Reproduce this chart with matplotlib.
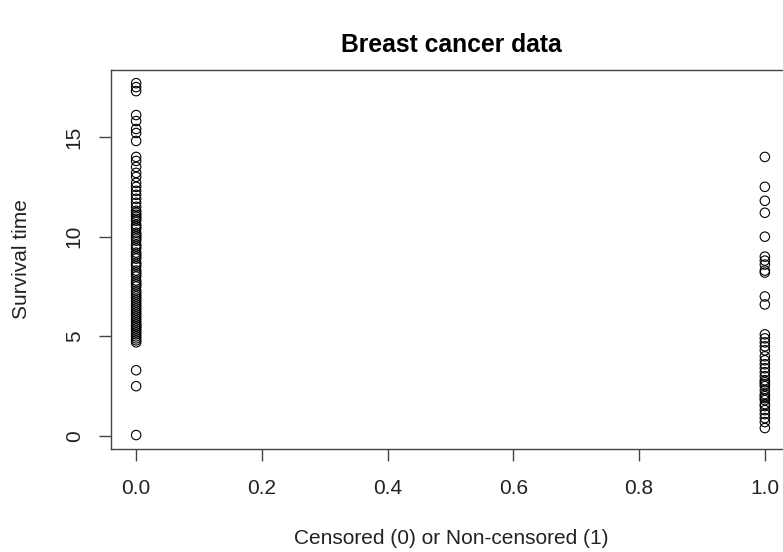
import numpy as np
import matplotlib
matplotlib.use("Agg")
import matplotlib.pyplot as plt

# survival times for censored (0) patients
censored_times = [17.7, 17.5, 17.3, 16.1, 15.8, 15.4, 15.2, 14.8,
                  14.0, 13.8, 13.5, 13.2, 13.0, 12.7, 12.5, 12.3, 12.1, 11.9,
                  11.7, 11.5, 11.3, 11.2, 11.1, 11.0, 10.9, 10.8, 10.6, 10.5,
                  10.4, 10.2, 10.1, 10.0, 9.9, 9.8, 9.6, 9.5, 9.4, 9.2, 9.1,
                  9.0, 8.9, 8.7, 8.6, 8.5, 8.3, 8.2, 8.1, 8.0, 7.8, 7.7, 7.6,
                  7.5, 7.3, 7.2, 7.1, 7.0, 6.9, 6.8, 6.7, 6.6, 6.5, 6.4, 6.3,
                  6.2, 6.1, 6.0, 5.9, 5.8, 5.7, 5.6, 5.5, 5.5, 5.4, 5.3, 5.2,
                  5.1, 5.0, 4.9, 4.8, 4.7, 3.3, 2.5, 0.05]

# survival times for non-censored (1) patients
event_times = [14.0, 12.5, 11.8, 11.2, 10.0, 9.0, 8.8, 8.6, 8.3, 8.2, 7.0,
               6.6, 5.1, 4.9, 4.7, 4.5, 4.3, 4.0, 3.8, 3.6, 3.4, 3.2, 3.0,
               2.8, 2.7, 2.6, 2.5, 2.3, 2.1, 2.0, 1.9, 1.8, 1.6, 1.5, 1.3,
               1.1, 0.9, 0.7, 0.4]

status = [0] * len(censored_times) + [1] * len(event_times)
times = censored_times + event_times

plt.rcParams['font.family'] = ['Liberation Sans', 'DejaVu Sans']

fig = plt.figure(figsize=(7.83, 5.52), dpi=100)
W, H = 783.0, 552.0
# axes box in pixels: left 111, right 790 (runs off the image), top 70, bottom 449
ax = fig.add_axes([111 / W, 1 - 449 / H, (790 - 111) / W, (449 - 70) / H])

ax.scatter(status, times, s=46, facecolors='none', edgecolors='black',
           linewidths=0.8)

ax.set_xlim(-0.04, 1.04)
ax.set_ylim(-0.65, 18.36)
ax.set_xticks([0.0, 0.2, 0.4, 0.6, 0.8, 1.0])
ax.set_xticklabels(['0.0', '0.2', '0.4', '0.6', '0.8', '1.0'])
ax.set_yticks([0, 5, 10, 15])
ax.set_yticklabels(['0', '5', '10', '15'], rotation=90, va='center')

for s in ax.spines.values():
    s.set_color('#444444')
    s.set_linewidth(1.0)
ax.tick_params(direction='out', length=8.6, width=1.0, color='#444444',
               labelsize=15, labelcolor='#222222', pad=11)
ax.tick_params(axis='x', pad=13)

# axis labels and title placed in pixel positions
fig.text(451 / W, 1 - 538 / H, 'Censored (0) or Non-censored (1)',
         ha='center', va='center', fontsize=15, color='#222222')
fig.text(22 / W, 1 - 259 / H, 'Survival time', ha='center', va='center',
         rotation=90, fontsize=15, color='#222222')
fig.text(451 / W, 1 - 45 / H, 'Breast cancer data', ha='center', va='center',
         fontsize=17.8, fontweight='bold')

fig.savefig('out.png', dpi=100)
